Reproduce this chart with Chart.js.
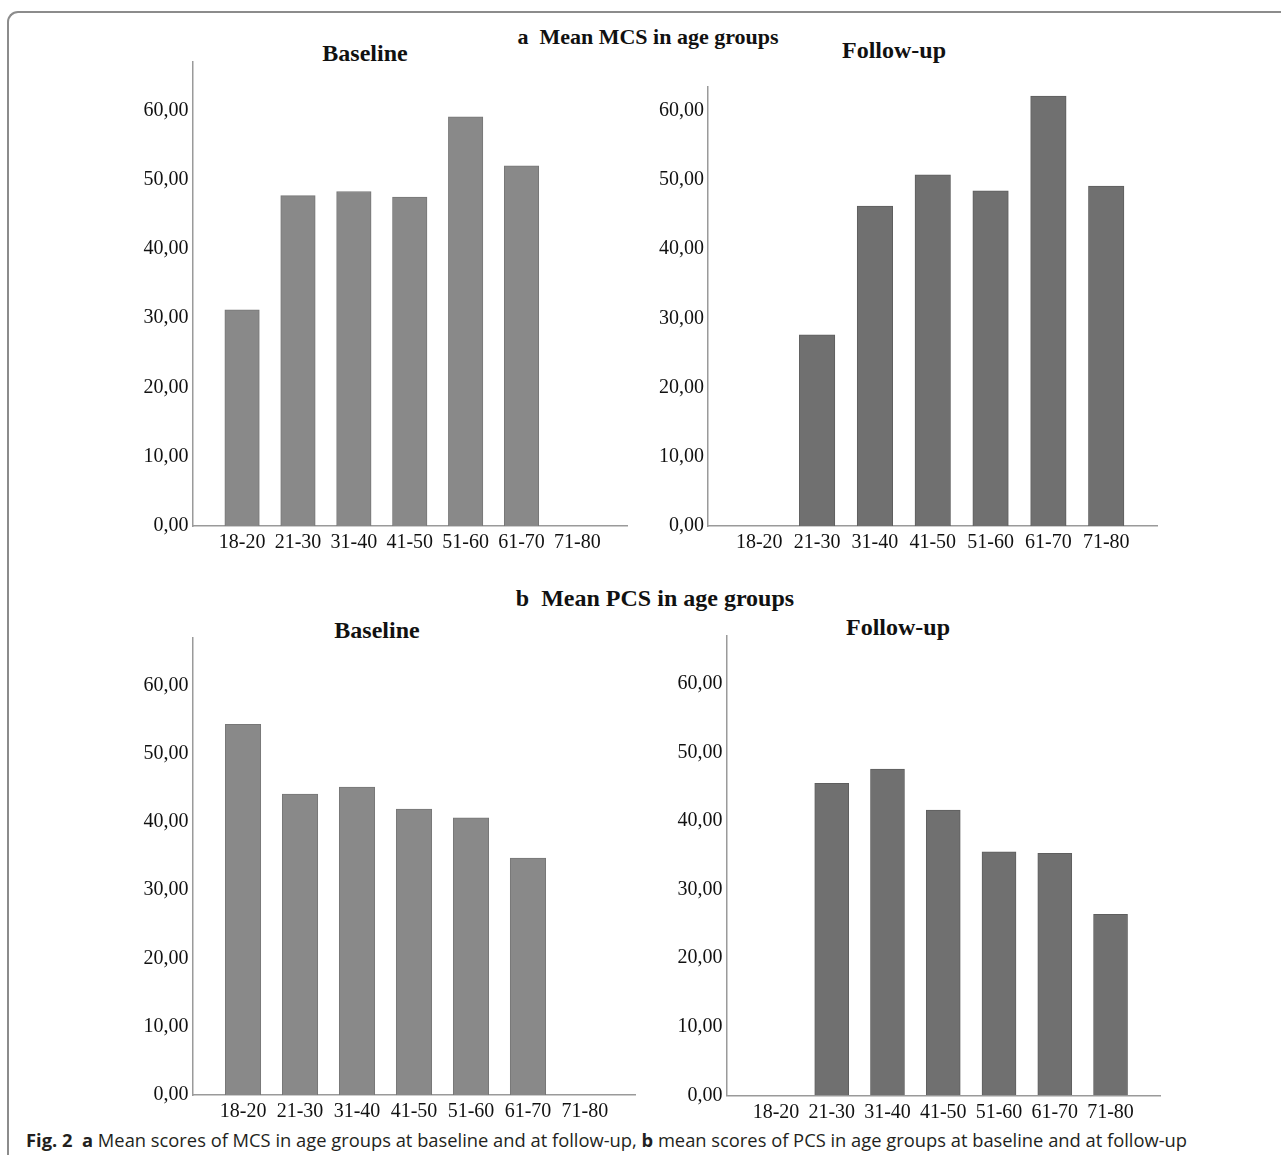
<!DOCTYPE html>
<html>
<head>
<meta charset="utf-8">
<script src="https://cdn.jsdelivr.net/npm/chart.js@4.4.1/dist/chart.umd.min.js"></script>
<style>
  html, body { margin: 0; padding: 0; background: #fff; }
  body { width: 1281px; height: 1155px; position: relative; overflow: hidden;
         font-family: "Liberation Serif", "Times New Roman", serif; }
  .frame { position: absolute; left: 7px; top: 11px; width: 1320px; height: 1200px;
           border-top: 2px solid #8c8c8c; border-left: 2px solid #8c8c8c;
           border-top-left-radius: 11px; box-sizing: border-box; }
  .t { position: absolute; white-space: pre; font-weight: bold; color: #111;
       transform: translateX(-50%); }
  canvas { position: absolute; }
  .cap { position: absolute; left: 26px; top: 1128px; line-height: 24px; white-space: pre;
         font-family: "Open Sans", "Noto Sans", sans-serif; color: #231f20; font-size: 17px; }
  .cap b { font-weight: 700; }
</style>
</head>
<body>
<div class="frame"></div>

<div class="t" style="left:648px; top:22px; line-height:30px; font-size:22px;">a  Mean MCS in age groups</div>
<div class="t" style="left:365px; top:38px; line-height:30px; font-size:24px;">Baseline</div>
<div class="t" style="left:894px; top:35px; line-height:30px; font-size:24px;">Follow-up</div>

<div class="t" style="left:655px; top:583px; line-height:30px; font-size:24px;">b  Mean PCS in age groups</div>
<div class="t" style="left:377px; top:615px; line-height:30px; font-size:24px;">Baseline</div>
<div class="t" style="left:898px; top:612px; line-height:30px; font-size:24px;">Follow-up</div>

<div class="cap" id="cap"><b>Fig. 2</b>  <b>a</b> Mean scores of MCS in age groups at baseline and at follow-up, <b>b</b> mean scores of PCS in age groups at baseline and at follow-up</div>

<script>
// Age-group categories and mean component scores
const ageGroups   = ['18-20', '21-30', '31-40', '41-50', '51-60', '61-70', '71-80'];
const mcsBaseline = [31.2, 47.7, 48.3, 47.5, 59.1, 52.0, null];
const mcsFollowUp = [null, 27.6, 46.2, 50.7, 48.4, 62.1, 49.1];
const pcsBaseline = [54.3, 44.1, 45.1, 41.9, 40.6, 34.7, null];
const pcsFollowUp = [null, 45.5, 47.6, 41.6, 35.5, 35.3, 26.4];
const yTickValues = [0, 10, 20, 30, 40, 50, 60];

const AXIS_COLOR = '#9a9a9a';
const TICK_FONT = { family: 'Liberation Serif', size: 20 };
const BASE_FILL = '#898989', BASE_EDGE = '#777777';
const FU_FILL = '#707070', FU_EDGE = '#5e5e5e';

// Draws one bar panel so that its plot area lands on the given box (page px)
function panel(values, area, yMax, fill, edge, barW) {
  const cx = Math.floor(area.l) - 100, cy = Math.floor(area.t) - 20;
  const cw = Math.ceil(area.r) - cx + 20, ch = Math.ceil(area.b) - cy + 60;
  const cv = document.createElement('canvas');
  cv.style.left = cx + 'px'; cv.style.top = cy + 'px';
  cv.style.width = cw + 'px'; cv.style.height = ch + 'px';
  cv.width = cw; cv.height = ch;
  document.body.appendChild(cv);

  const yW = area.l - cx, padT = area.t - cy, padR = cx + cw - area.r, xH = cy + ch - area.b;

  new Chart(cv, {
    type: 'bar',
    data: {
      datasets: [{
        data: ageGroups.map((g, i) => ({ x: i, y: values[i] })),
        backgroundColor: fill,
        borderColor: edge,
        borderWidth: 1,
        borderSkipped: 'start',
        barThickness: barW
      }]
    },
    options: {
      responsive: false,
      animation: false,
      devicePixelRatio: 1,
      layout: { padding: { left: 0, top: padT, right: padR, bottom: 0 } },
      plugins: { legend: { display: false }, tooltip: { enabled: false }, title: { display: false } },
      scales: {
        x: {
          type: 'linear', min: -0.887, max: 6.887, offset: false,
          grid: { display: false, drawTicks: false },
          border: { display: true, color: AXIS_COLOR, width: 1.5 },
          afterBuildTicks: s => { s.ticks = ageGroups.map((g, i) => ({ value: i })); },
          afterFit: s => { s.height = xH; },
          ticks: {
            autoSkip: false, maxRotation: 0, minRotation: 0, padding: 5,
            color: '#111', font: TICK_FONT,
            callback: v => (ageGroups[v] !== undefined ? ageGroups[v] : '')
          }
        },
        y: {
          type: 'linear', min: 0, max: yMax,
          grid: { display: false, drawTicks: false },
          border: { display: true, color: AXIS_COLOR, width: 1.5 },
          afterBuildTicks: s => { s.ticks = yTickValues.map(v => ({ value: v })); },
          afterFit: s => { s.width = yW; },
          ticks: {
            padding: 4, color: '#111', font: TICK_FONT,
            callback: v => v.toFixed(2).replace('.', ',')
          }
        }
      }
    }
  });
}

// a: MCS
panel(mcsBaseline, { l: 192.5, t: 62,   r: 627,  b: 526 },    67,   BASE_FILL, BASE_EDGE, 34.5);
panel(mcsFollowUp, { l: 708,   t: 86.3, r: 1157.5, b: 526 },  63.5, FU_FILL,   FU_EDGE,   35.5);
// b: PCS
panel(pcsBaseline, { l: 192.5, t: 637.7, r: 635.5, b: 1095 }, 67,   BASE_FILL, BASE_EDGE, 35.5);
panel(pcsFollowUp, { l: 726.5, t: 636,   r: 1160,  b: 1095.3 }, 67, FU_FILL,   FU_EDGE,   34);

// Caption sized to span its line
const cap = document.getElementById('cap');
const w = cap.getBoundingClientRect().width;
cap.style.fontSize = (17 * 1161 / w).toFixed(2) + 'px';
</script>
</body>
</html>
